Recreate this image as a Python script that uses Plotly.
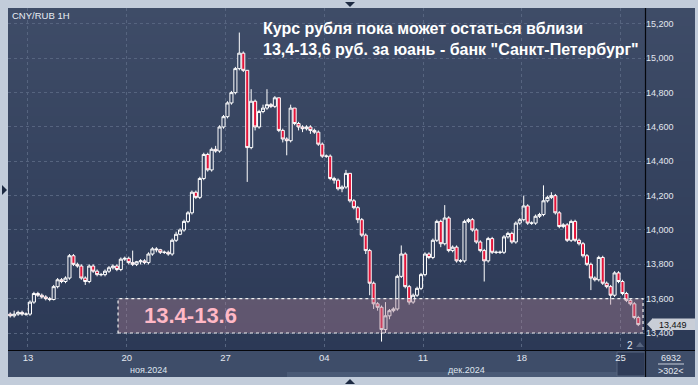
import plotly.graph_objects as go

# ---------------- data ----------------
open_ = [13.51, 13.50, 13.51, 13.52, 13.51, 13.51, 13.58, 13.63, 13.62, 13.61,
         13.60, 13.595, 13.67, 13.71, 13.70, 13.72, 13.85, 13.80, 13.79, 13.72,
         13.70, 13.79, 13.76, 13.74, 13.74, 13.76, 13.78, 13.79, 13.77, 13.83,
         13.835, 13.81, 13.80, 13.815, 13.82, 13.81, 13.86, 13.89, 13.885, 13.87,
         13.87, 13.86, 13.94, 13.975, 14.00, 14.05, 14.10, 14.22, 14.19, 14.30,
         14.44, 14.35, 14.47, 14.46, 14.60, 14.66, 14.74, 14.80, 14.94, 15.03,
         14.93, 14.48, 14.75, 14.60, 14.69, 14.71, 14.73, 14.72, 14.77, 14.58,
         14.53, 14.52, 14.71, 14.62, 14.60, 14.59, 14.60, 14.58, 14.57, 14.50,
         14.43, 14.43, 14.30, 14.29, 14.24, 14.25, 14.33, 14.17, 14.13, 14.06,
         13.97, 13.88, 13.69, 13.57, 13.55, 13.42, 13.50, 13.53, 13.54, 13.73,
         13.86, 13.67, 13.58, 13.62, 13.66, 13.74, 13.86, 13.84, 13.94, 14.05,
         13.92, 14.07, 13.88, 13.90, 13.82, 13.82, 14.05, 14.06, 14.00, 13.93,
         13.88, 13.82, 13.95, 13.87, 13.87, 13.87, 13.96, 13.98, 13.93, 14.04,
         14.06, 14.14, 14.04, 14.04, 14.08, 14.09, 14.17, 14.19, 14.20, 14.10,
         14.02, 14.03, 13.94, 14.05, 13.94, 13.92, 13.85, 13.80, 13.72, 13.71,
         13.84, 13.69, 13.67, 13.62, 13.75, 13.70, 13.63, 13.59, 13.57, 13.49]

high = [13.52, 13.53, 13.53, 13.53, 13.52, 13.59, 13.64, 13.64, 13.63, 13.62,
        13.61, 13.68, 13.72, 13.72, 13.73, 13.86, 13.86, 13.81, 13.80, 13.73,
        13.80, 13.80, 13.77, 13.75, 13.77, 13.79, 13.80, 13.80, 13.84, 13.845,
        13.845, 13.88, 13.82, 13.83, 13.83, 13.87, 13.90, 13.90, 13.89, 13.88,
        13.88, 13.95, 13.99, 14.01, 14.06, 14.11, 14.23, 14.23, 14.31, 14.45,
        14.45, 14.48, 14.49, 14.61, 14.67, 14.75, 14.81, 14.95, 15.15, 15.04,
        14.93, 14.82, 14.76, 14.70, 14.73, 14.82, 14.74, 14.78, 14.77, 14.59,
        14.54, 14.73, 14.71, 14.63, 14.61, 14.61, 14.61, 14.59, 14.58, 14.51,
        14.44, 14.44, 14.31, 14.30, 14.26, 14.35, 14.33, 14.18, 14.14, 14.07,
        13.98, 13.89, 13.70, 13.58, 13.56, 13.58, 13.54, 13.55, 13.74, 13.91,
        13.87, 13.68, 13.63, 13.67, 13.75, 13.87, 13.87, 13.95, 14.06, 14.06,
        14.145, 14.08, 13.91, 13.91, 13.83, 14.06, 14.07, 14.07, 14.01, 13.94,
        13.89, 13.96, 13.96, 13.88, 13.88, 13.97, 13.99, 13.99, 14.05, 14.07,
        14.20, 14.15, 14.05, 14.09, 14.10, 14.26, 14.20, 14.22, 14.21, 14.11,
        14.04, 14.04, 14.06, 14.06, 13.95, 13.93, 13.86, 13.81, 13.73, 13.85,
        13.85, 13.70, 13.68, 13.76, 13.76, 13.71, 13.64, 13.60, 13.58, 13.50]

low = [13.49, 13.49, 13.50, 13.50, 13.50, 13.50, 13.57, 13.61, 13.60, 13.59,
       13.585, 13.59, 13.66, 13.69, 13.69, 13.71, 13.79, 13.78, 13.71, 13.68,
       13.69, 13.75, 13.73, 13.73, 13.73, 13.75, 13.77, 13.76, 13.76, 13.82,
       13.80, 13.79, 13.79, 13.80, 13.80, 13.80, 13.85, 13.87, 13.86, 13.86,
       13.85, 13.85, 13.93, 13.97, 13.99, 14.04, 14.09, 14.18, 14.18, 14.29,
       14.34, 14.34, 14.45, 14.45, 14.59, 14.65, 14.73, 14.79, 14.93, 14.92,
       14.28, 14.47, 14.58, 14.59, 14.68, 14.70, 14.71, 14.71, 14.57, 14.51,
       14.435, 14.51, 14.61, 14.58, 14.57, 14.58, 14.56, 14.56, 14.49, 14.42,
       14.42, 14.29, 14.27, 14.23, 14.22, 14.24, 14.16, 14.12, 14.04, 13.96,
       13.86, 13.62, 13.54, 13.53, 13.35, 13.40, 13.48, 13.52, 13.53, 13.72,
       13.66, 13.565, 13.57, 13.61, 13.65, 13.73, 13.83, 13.83, 13.93, 13.90,
       13.91, 13.87, 13.87, 13.81, 13.81, 13.81, 14.04, 13.99, 13.92, 13.87,
       13.70, 13.81, 13.86, 13.86, 13.86, 13.86, 13.95, 13.92, 13.92, 14.03,
       14.05, 14.03, 14.03, 14.03, 14.07, 14.08, 14.16, 14.18, 14.09, 14.01,
       14.01, 13.93, 13.93, 13.93, 13.91, 13.84, 13.79, 13.65, 13.70, 13.70,
       13.68, 13.66, 13.565, 13.61, 13.69, 13.62, 13.58, 13.56, 13.48, 13.44]

close = [13.50, 13.51, 13.52, 13.51, 13.51, 13.58, 13.63, 13.62, 13.61, 13.60,
         13.595, 13.67, 13.71, 13.70, 13.72, 13.85, 13.80, 13.79, 13.72, 13.70,
         13.79, 13.76, 13.74, 13.74, 13.76, 13.78, 13.79, 13.77, 13.83, 13.835,
         13.81, 13.80, 13.815, 13.82, 13.81, 13.86, 13.89, 13.885, 13.87, 13.87,
         13.86, 13.94, 13.975, 14.00, 14.05, 14.10, 14.22, 14.19, 14.30, 14.44,
         14.35, 14.47, 14.46, 14.60, 14.66, 14.74, 14.80, 14.94, 15.03, 14.93,
         14.48, 14.75, 14.60, 14.69, 14.71, 14.73, 14.72, 14.77, 14.58, 14.53,
         14.52, 14.71, 14.62, 14.60, 14.59, 14.60, 14.58, 14.57, 14.50, 14.43,
         14.43, 14.30, 14.29, 14.24, 14.25, 14.33, 14.17, 14.13, 14.06, 13.97,
         13.88, 13.69, 13.57, 13.55, 13.42, 13.50, 13.53, 13.54, 13.73, 13.86,
         13.67, 13.58, 13.62, 13.66, 13.74, 13.86, 13.84, 13.94, 14.05, 13.92,
         14.07, 13.88, 13.90, 13.82, 13.82, 14.05, 14.06, 14.00, 13.93, 13.88,
         13.82, 13.95, 13.87, 13.87, 13.87, 13.96, 13.98, 13.93, 14.04, 14.06,
         14.14, 14.04, 14.04, 14.08, 14.09, 14.17, 14.19, 14.20, 14.10, 14.02,
         14.03, 13.94, 14.05, 13.94, 13.92, 13.85, 13.80, 13.72, 13.71, 13.84,
         13.69, 13.67, 13.62, 13.75, 13.70, 13.63, 13.59, 13.57, 13.49, 13.449]

bar_index = list(range(len(close)))

week_tick_pos = [4.5, 29.5, 54.5, 79.5, 104.5, 129.5, 154.5]
week_tick_text = ["13", "20", "27", "04", "11", "18", "25"]
month_labels = ["ноя.2024", "дек.2024"]
month_label_pos = [34.9, 115.6]

y_tick_vals = [13.4, 13.6, 13.8, 14.0, 14.2, 14.4, 14.6, 14.8, 15.0, 15.2]
y_tick_text = ["13,400", "13,600", "13,800", "14,000", "14,200",
               "14,400", "14,600", "14,800", "15,000", "15,200"]

band_low, band_high = 13.4, 13.6
band_start = 27.3
band_label = "13.4-13.6"
last_price = 13.449
last_price_text = "13,449"

title_lines = ["Курс рубля пока может остаться вблизи",
               "13,4-13,6 руб. за юань - банк \"Санкт-Петербург\""]
symbol_text = "CNY/RUB 1H"

# ---------------- layout geometry ----------------
W, H = 698, 385
ML, MR, MT, MB = 8, 53, 8, 35
PW = W - ML - MR
PH = H - MT - MB


def PX(px):
    return (px - ML) / PW


def PY(py):
    return (H - MB - py) / PH


FONT = "Liberation Sans, Arial, sans-serif"
shapes = []

# gradient background (plot + price-axis panel)
top_c = (62, 76, 103)
bot_c = (44, 57, 86)
n_steps = 38
y_top, y_bot = 8, 350
for k in range(n_steps):
    t = k / (n_steps - 1)
    c = tuple(round(top_c[j] + (bot_c[j] - top_c[j]) * t) for j in range(3))
    ya = y_top + (y_bot - y_top) * k / n_steps
    yb = y_top + (y_bot - y_top) * (k + 1) / n_steps + 0.6
    shapes.append(dict(type="rect", xref="paper", yref="paper", layer="below",
                       x0=PX(8), x1=PX(695), y0=PY(yb), y1=PY(ya),
                       fillcolor="rgb(%d,%d,%d)" % c, line=dict(width=0)))

# bottom time-axis panel
shapes.append(dict(type="rect", xref="paper", yref="paper", layer="below",
                   x0=PX(8), x1=PX(695), y0=PY(377), y1=PY(350),
                   fillcolor="#3e4d69", line=dict(width=0)))
shapes.append(dict(type="rect", xref="paper", yref="paper", layer="below",
                   x0=PX(287), x1=PX(640), y0=PY(377), y1=PY(372),
                   fillcolor="#4a5a76", line=dict(width=0)))
shapes.append(dict(type="rect", xref="paper", yref="paper", layer="below",
                   x0=PX(617), x1=PX(645), y0=PY(376), y1=PY(352),
                   fillcolor="#2f3c58", line=dict(width=1, color="#56647e")))

# separators
shapes.append(dict(type="line", xref="paper", yref="paper", layer="above",
                   x0=PX(645.5), x1=PX(645.5), y0=PY(377), y1=PY(8),
                   line=dict(width=1.2, color="#05070c")))
shapes.append(dict(type="line", xref="paper", yref="paper", layer="above",
                   x0=PX(8), x1=PX(695), y0=PY(350.5), y1=PY(350.5),
                   line=dict(width=1.2, color="#05070c")))
shapes.append(dict(type="line", xref="paper", yref="paper", layer="above",
                   x0=PX(658), x1=PX(684), y0=PY(364), y1=PY(364),
                   line=dict(width=1, color="#c8d0dc")))

# support band
shapes.append(dict(type="rect", xref="x", yref="y", layer="above",
                   x0=band_start, x1=160.2, y0=band_low, y1=band_high,
                   fillcolor="rgba(172,128,148,0.40)",
                   line=dict(width=1.2, color="#f2f2f2", dash="dot")))

# last price marker
shapes.append(dict(type="rect", xref="paper", yref="paper", layer="above",
                   x0=PX(652), x1=PX(695), y0=PY(330), y1=PY(318.5),
                   fillcolor="#c9ced7", line=dict(width=0)))
shapes.append(dict(type="path", xref="paper", yref="paper", layer="above",
                   path="M %f %f L %f %f L %f %f Z" % (PX(647), PY(324.2), PX(652.5), PY(318.5),
                                                        PX(652.5), PY(330)),
                   fillcolor="#c9ced7", line=dict(width=0)))

# frame arrows on the outer strip
shapes.append(dict(type="path", xref="paper", yref="paper", layer="above",
                   path="M %f %f L %f %f L %f %f Z" % (PX(2), PY(185), PX(2), PY(195), PX(7), PY(190)),
                   fillcolor="#1d2a42", line=dict(width=0)))
shapes.append(dict(type="path", xref="paper", yref="paper", layer="above",
                   path="M %f %f L %f %f L %f %f Z" % (PX(345), PY(2), PX(355), PY(2), PX(350), PY(7)),
                   fillcolor="#1d2a42", line=dict(width=0)))
shapes.append(dict(type="path", xref="paper", yref="paper", layer="above",
                   path="M %f %f L %f %f L %f %f Z" % (PX(345), PY(384), PX(355), PY(384), PX(350), PY(379)),
                   fillcolor="#1d2a42", line=dict(width=0)))
shapes.append(dict(type="path", xref="paper", yref="paper", layer="above",
                   path="M %f %f L %f %f L %f %f Z" % (PX(636), PY(347), PX(644), PY(347), PX(640), PY(342)),
                   fillcolor="#56647e", line=dict(width=0)))

fig = go.Figure()
fig.add_trace(go.Candlestick(
    x=bar_index, open=open_, high=high, low=low, close=close,
    increasing=dict(line=dict(color="#ffffff", width=1), fillcolor="#34425f"),
    decreasing=dict(line=dict(color="#ffffff", width=1), fillcolor="#e3153a"),
    whiskerwidth=0, showlegend=False, hoverinfo="skip"))

annotations = [
    dict(xref="paper", yref="paper", x=PX(261), y=PY(39), xanchor="left", yanchor="middle",
         align="left", showarrow=False,
         text="<b>" + title_lines[0] + "</b><br><b>" + title_lines[1] + "</b>",
         font=dict(family=FONT, size=16, color="#ffffff")),
    dict(xref="paper", yref="paper", x=PX(10), y=PY(15), xanchor="left", yanchor="middle",
         showarrow=False, text=symbol_text,
         font=dict(family=FONT, size=9.5, color="#e8ecf3")),
    dict(xref="x", yref="y", x=33.4, y=(band_low + band_high) / 2, xanchor="left",
         yanchor="middle", showarrow=False, text="<b>" + band_label + "</b>",
         font=dict(family=FONT, size=22, color="#ffb8c6")),
    dict(xref="paper", yref="y", x=PX(673.5), y=last_price, xanchor="center",
         yanchor="middle", showarrow=False, text=last_price_text,
         font=dict(family=FONT, size=9, color="#101010")),
    dict(xref="paper", yref="paper", x=PX(671), y=PY(357.5), xanchor="center",
         yanchor="middle", showarrow=False, text="6932",
         font=dict(family=FONT, size=9, color="#e4e9f1")),
    dict(xref="paper", yref="paper", x=PX(671), y=PY(371), xanchor="center",
         yanchor="middle", showarrow=False, text="&gt;302&lt;",
         font=dict(family=FONT, size=9, color="#e4e9f1")),
    dict(xref="paper", yref="paper", x=PX(630), y=PY(345), xanchor="center",
         yanchor="middle", showarrow=False, text="2",
         font=dict(family=FONT, size=10, color="#e4e9f1")),
]
for lab, pos in zip(month_labels, month_label_pos):
    annotations.append(dict(xref="x", yref="paper", x=pos, y=PY(370), xanchor="center",
                            yanchor="middle", showarrow=False, text=lab,
                            font=dict(family=FONT, size=9, color="#dfe5ee")))

fig.update_layout(
    width=W, height=H,
    margin=dict(l=ML, r=MR, t=MT, b=MB, pad=0),
    paper_bgcolor="#c2ccda",
    plot_bgcolor="rgba(0,0,0,0)",
    boxgap=0.18, boxgroupgap=0.05,
    shapes=shapes,
    annotations=annotations,
    showlegend=False,
    xaxis=dict(range=[-0.56, 160.7], tickmode="array", tickvals=week_tick_pos,
               ticktext=week_tick_text, showgrid=True, gridcolor="#56647f",
               griddash="3px,3px", gridwidth=1, zeroline=False, showline=False,
               ticks="", rangeslider=dict(visible=False),
               tickfont=dict(family=FONT, size=9.5, color="#e2e7ef")),
    yaxis=dict(range=[13.301, 15.293], side="right", tickmode="array",
               tickvals=y_tick_vals, ticktext=y_tick_text, showgrid=True,
               gridcolor="#56647f", griddash="3px,3px", gridwidth=1,
               zeroline=False, showline=False, ticks="",
               tickfont=dict(family=FONT, size=9, color="#e2e7ef")),
)

fig.write_html("out.html",
               config={"displayModeBar": False, "staticPlot": True},
               post_script="document.body.style.margin='0';document.body.style.padding='0';"
                           "document.body.style.overflow='hidden';")
